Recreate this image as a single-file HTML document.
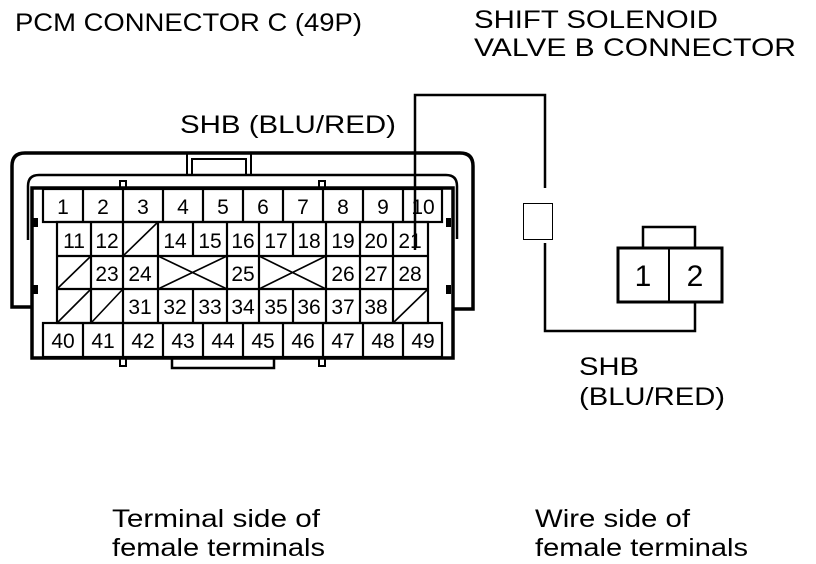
<!DOCTYPE html>
<html><head><meta charset="utf-8"><style>
html,body{margin:0;padding:0;background:#fff;}
svg{display:block;}
text{font-family:"Liberation Sans",Arial,sans-serif;fill:#000;}
</style></head><body>
<svg width="816" height="564" viewBox="0 0 816 564" xmlns="http://www.w3.org/2000/svg">
<g font-size="25">
<text x="15" y="31" textLength="347" lengthAdjust="spacingAndGlyphs">PCM CONNECTOR C (49P)</text>
<text x="474" y="28" textLength="244" lengthAdjust="spacingAndGlyphs">SHIFT SOLENOID</text>
<text x="474" y="56" textLength="322" lengthAdjust="spacingAndGlyphs">VALVE B CONNECTOR</text>
<text x="180" y="133" textLength="216" lengthAdjust="spacingAndGlyphs">SHB (BLU/RED)</text>
<text x="579" y="375" textLength="60" lengthAdjust="spacingAndGlyphs">SHB</text>
<text x="579" y="405" textLength="146" lengthAdjust="spacingAndGlyphs">(BLU/RED)</text>
<text x="112" y="527" textLength="208" lengthAdjust="spacingAndGlyphs">Terminal side of</text>
<text x="112" y="556" textLength="213" lengthAdjust="spacingAndGlyphs">female terminals</text>
<text x="535" y="527" textLength="155" lengthAdjust="spacingAndGlyphs">Wire side of</text>
<text x="535" y="556" textLength="213" lengthAdjust="spacingAndGlyphs">female terminals</text>
</g>
<g fill="none" stroke="#000">
<path d="M33 307 H12 V166 Q12 153 25 153 H460 Q473 153 473 166 V309 H453" stroke-width="3.5"/>
<path d="M187 153 V175 M251 153 V175 M192 175 V159 H246 V175" stroke-width="2"/>
<path d="M28 240 V186 Q28 175 39 175 H446 Q457 175 457 186 V239" stroke-width="2.5"/>
<rect x="32" y="188" width="421" height="170" stroke-width="3.5"/>
<rect x="120" y="181" width="6" height="7" stroke-width="2"/>
<rect x="319" y="181" width="6" height="7" stroke-width="2"/>
<rect x="120" y="358" width="6" height="8" stroke-width="2"/>
<rect x="319" y="358" width="6" height="8" stroke-width="2"/>
<path d="M172 358 V368 H274 V358" stroke-width="2.5"/>
</g>
<g fill="#000">
<rect x="33" y="218" width="5" height="9"/><rect x="33" y="285" width="5" height="9"/>
<rect x="446" y="218" width="5" height="9"/><rect x="446" y="285" width="5" height="9"/>
</g>
<g fill="none" stroke="#000" stroke-width="2.2">
<rect x="43" y="189" width="399" height="33"/>
<path d="M83 189V222M123 189V222M163 189V222M203 189V222M243 189V222M283 189V222M323 189V222M363 189V222M403 189V222"/>
<rect x="57" y="222" width="371" height="101"/>
<path d="M57 256H428M57 289H428"/>
<path d="M91 222V323M123 222V323M158 222V256M193 222V256M227 222V323M259 222V323M293 222V256M326 222V323M360 222V323M393 222V323"/>
<path d="M158 256V323M193 289V323M293 289V323"/>
<path d="M123 256L158 222M57 289L91 256M158 256L227 289M158 289L227 256M259 256L326 289M259 289L326 256M57 323L91 289M91 323L123 289M393 323L428 289" stroke-width="1.6"/>
<rect x="43" y="323" width="399" height="34"/>
<path d="M83 323V357M123 323V357M163 323V357M203 323V357M243 323V357M283 323V357M323 323V357M363 323V357M403 323V357"/>
</g>
<g font-size="21" text-anchor="middle">
<text x="63" y="214">1</text><text x="103" y="214">2</text><text x="143" y="214">3</text><text x="183" y="214">4</text><text x="223" y="214">5</text><text x="263" y="214">6</text><text x="303" y="214">7</text><text x="343" y="214">8</text><text x="383" y="214">9</text><text x="423" y="214">10</text>
<text x="74" y="248">11</text><text x="107" y="248">12</text><text x="175" y="248">14</text><text x="210" y="248">15</text><text x="243" y="248">16</text><text x="276" y="248">17</text><text x="309" y="248">18</text><text x="343" y="248">19</text><text x="376" y="248">20</text><text x="410" y="248">21</text>
<text x="107" y="281">23</text><text x="140" y="281">24</text><text x="243" y="281">25</text><text x="343" y="281">26</text><text x="376" y="281">27</text><text x="410" y="281">28</text>
<text x="140" y="314">31</text><text x="175" y="314">32</text><text x="210" y="314">33</text><text x="243" y="314">34</text><text x="276" y="314">35</text><text x="309" y="314">36</text><text x="343" y="314">37</text><text x="376" y="314">38</text>
<text x="63" y="348">40</text><text x="103" y="348">41</text><text x="143" y="348">42</text><text x="183" y="348">43</text><text x="223" y="348">44</text><text x="263" y="348">45</text><text x="303" y="348">46</text><text x="343" y="348">47</text><text x="383" y="348">48</text><text x="423" y="348">49</text>
</g>
<g fill="none" stroke="#000">
<path d="M415 250V95H545V188M545 243V331H695V302" stroke-width="2.5"/>
<rect x="523.5" y="203.5" width="29" height="36" stroke-width="1"/>
<path d="M643 248V227H695V248" stroke-width="2.5"/>
<rect x="618" y="248" width="104" height="54" stroke-width="3"/>
<path d="M669 248V302" stroke-width="2"/>
</g>
<g font-size="30" text-anchor="middle">
<text x="643" y="286">1</text><text x="695" y="286">2</text>
</g>
</svg>
</body></html>
